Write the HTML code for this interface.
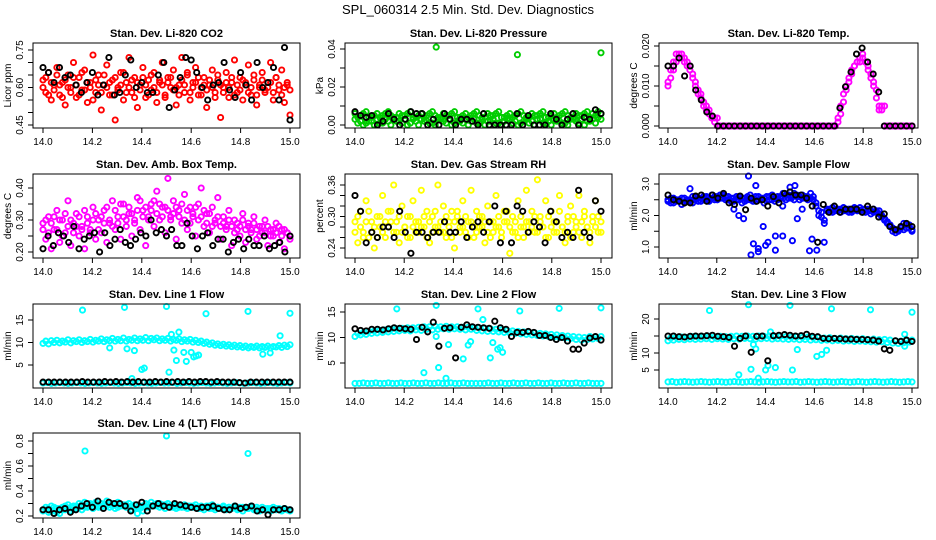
<!DOCTYPE html>
<html><head><meta charset="utf-8">
<style>
html,body{margin:0;padding:0;background:#fff;}
svg{display:block;font-family:"Liberation Sans",sans-serif;}
</style></head>
<body>
<svg id="chart" width="936" height="540" viewBox="0 0 936 540">
<text x="468" y="14" text-anchor="middle" font-size="13">SPL_060314  2.5 Min. Std. Dev. Diagnostics</text>
</svg>
<script>
// ---- data (x assumed evenly spaced over 14.0–15.0 for each series) ----
const xTickLabels = ["14.0","14.2","14.4","14.6","14.8","15.0"];
const xTicks = [14.0,14.2,14.4,14.6,14.8,15.0];

const co2Red = [0.63,0.58,0.66,0.55,0.61,0.68,0.57,0.62,0.53,0.65,0.60,0.70,0.56,0.64,0.59,0.67,0.54,0.62,0.73,0.58,0.65,0.51,0.61,0.69,0.57,0.63,0.47,0.60,0.66,0.55,0.62,0.72,0.58,0.64,0.52,0.61,0.68,0.56,0.63,0.59,0.66,0.54,0.62,0.70,0.57,0.64,0.60,0.67,0.53,0.61,0.72,0.58,0.65,0.55,0.62,0.68,0.57,0.60,0.64,0.52,0.61,0.67,0.58,0.63,0.48,0.60,0.66,0.56,0.62,0.71,0.58,0.64,0.55,0.61,0.69,0.57,0.63,0.53,0.60,0.66,0.58,0.62,0.70,0.55,0.64,0.59,0.67,0.54,0.61,0.49];
const co2Red2 = [0.60,0.64,0.57,0.62,0.59,0.65,0.61,0.56,0.63,0.60,0.58,0.64,0.61,0.57,0.66,0.59,0.62,0.60,0.55,0.63,0.61,0.58,0.65,0.60,0.62,0.57,0.64,0.59,0.61,0.66,0.58,0.60,0.63,0.56,0.62,0.59,0.64,0.61,0.57,0.65,0.60,0.58,0.63,0.61,0.56,0.62,0.64,0.59,0.60,0.57,0.63,0.61,0.66,0.58,0.60,0.62,0.64,0.57,0.61,0.59,0.63,0.60,0.56,0.65,0.61,0.58,0.62,0.60,0.64,0.57,0.61,0.59,0.63,0.62,0.58,0.60,0.65,0.57,0.61,0.63,0.59,0.60,0.62,0.58,0.64,0.61,0.57,0.60,0.62,0.59];
const co2Black = [0.68,0.66,0.62,0.68,0.64,0.65,0.61,0.58,0.62,0.66,0.57,0.61,0.72,0.57,0.58,0.65,0.71,0.60,0.62,0.58,0.58,0.65,0.70,0.52,0.59,0.64,0.72,0.71,0.66,0.60,0.55,0.61,0.62,0.70,0.59,0.56,0.66,0.61,0.55,0.70,0.60,0.62,0.68,0.55,0.76,0.47];

const presGreen = [0.006,0.001,0.005,0.000,0.007,0.002,0.004,0.000,0.006,0.001,0.005,0.003,0.007,0.000,0.004,0.002,0.006,0.001,0.005,0.000,0.007,0.003,0.004,0.000,0.006,0.002,0.005,0.001,0.007,0.000,0.004,0.003,0.006,0.001,0.005,0.000,0.007,0.002,0.004,0.001,0.006,0.000,0.005,0.003,0.007,0.001,0.004,0.000,0.006,0.002,0.005,0.001,0.007,0.000,0.004,0.003,0.006,0.001,0.005,0.000,0.007,0.002,0.004,0.001,0.006,0.000,0.005,0.003,0.007,0.001,0.004,0.000,0.006,0.002,0.005,0.001,0.007,0.000,0.004,0.003,0.006,0.001,0.005,0.000,0.007,0.002,0.006,0.001,0.007,0.003];
const presGreen2 = [0.003,0.004,0.002,0.006,0.001,0.004,0.002,0.005,0.003,0.004,0.001,0.006,0.002,0.005,0.003,0.004,0.002,0.005,0.003,0.006,0.001,0.004,0.002,0.005,0.003,0.004,0.002,0.006,0.001,0.005,0.003,0.004,0.002,0.005,0.003,0.006,0.001,0.004,0.002,0.005,0.003,0.004,0.002,0.006,0.001,0.005,0.003,0.004,0.002,0.005,0.003,0.006,0.001,0.004,0.002,0.005,0.003,0.004,0.002,0.006,0.001,0.005,0.003,0.004,0.002,0.005,0.003,0.006,0.001,0.004,0.002,0.005,0.003,0.004,0.002,0.006,0.001,0.005,0.003,0.004,0.002,0.005,0.003,0.006,0.002,0.004,0.003,0.005,0.004,0.006];
const presOutX = [14.33,14.66,15.0];
const presOutY = [0.041,0.037,0.038];
const presBlack = [0.007,0.005,0.004,0.005,0.000,0.002,0.006,0.003,0.000,0.003,0.007,0.006,0.006,0.000,0.003,0.000,0.006,0.003,0.000,0.003,0.003,0.002,0.000,0.006,0.000,0.000,0.000,0.000,0.000,0.006,0.000,0.005,0.000,0.000,0.000,0.006,0.003,0.000,0.003,0.006,0.000,0.004,0.003,0.008,0.006];

const tempMag = [0.010,0.012,0.014,0.016,0.017,0.017,0.016,0.015,0.014,0.012,0.010,0.008,0.007,0.005,0.004,0.003,0.002,0.001,0,0,0,0,0,0,0,0,0,0,0,0,0,0,0,0,0,0,0,0,0,0,0,0,0,0,0,0,0,0,0,0,0,0,0,0,0,0,0,0,0,0,0,0,0.002,0.005,0.008,0.010,0.012,0.014,0.015,0.016,0.017,0.018,0.016,0.014,0.012,0.010,0.007,0.004,0.004,0,0,0,0,0,0,0,0,0,0,0];
const tempMag2 = [0.011,0.014,0.016,0.018,0.018,0.018,0.017,0.016,0.015,0.013,0.011,0.009,0.008,0.006,0.005,0.004,0.002,0.002,0.002,0,0,0,0,0,0,0,0,0,0,0,0,0,0,0,0,0,0,0,0,0,0,0,0,0,0,0,0,0,0,0,0,0,0,0,0,0,0,0,0,0,0,0,0.001,0.003,0.006,0.009,0.011,0.013,0.015,0.016,0.016,0.017,0.016,0.015,0.013,0.011,0.009,0.005,0.005,0.005,0,0,0,0,0,0,0,0,0,0];
const tempBlack = [0.015,0.015,0.017,0.0125,0.015,0.009,0.0065,0.0035,0.0025,0,0,0,0,0,0,0,0,0,0,0,0,0,0,0,0,0,0,0,0,0,0,0.0045,0.0098,0.0135,0.018,0.0195,0.016,0.013,0.0085,0,0,0,0,0,0];

const ambMag = [0.29,0.24,0.31,0.21,0.27,0.33,0.23,0.30,0.26,0.36,0.22,0.29,0.32,0.25,0.28,0.21,0.31,0.27,0.34,0.24,0.30,0.26,0.33,0.23,0.29,0.36,0.27,0.31,0.24,0.35,0.28,0.32,0.25,0.30,0.37,0.27,0.33,0.22,0.31,0.35,0.28,0.39,0.30,0.34,0.26,0.43,0.31,0.36,0.24,0.33,0.29,0.38,0.27,0.34,0.31,0.25,0.35,0.40,0.28,0.32,0.26,0.34,0.29,0.37,0.24,0.31,0.28,0.33,0.22,0.30,0.27,0.25,0.32,0.23,0.29,0.27,0.31,0.24,0.28,0.26,0.30,0.22,0.27,0.25,0.29,0.23,0.27,0.21,0.26,0.24];
const ambMag2 = [0.27,0.30,0.26,0.29,0.31,0.27,0.30,0.25,0.32,0.28,0.30,0.26,0.28,0.31,0.27,0.33,0.29,0.26,0.30,0.32,0.27,0.31,0.29,0.34,0.30,0.28,0.33,0.29,0.35,0.31,0.30,0.34,0.32,0.29,0.33,0.36,0.31,0.34,0.30,0.33,0.36,0.32,0.35,0.31,0.34,0.33,0.30,0.32,0.34,0.31,0.35,0.30,0.33,0.29,0.32,0.34,0.30,0.31,0.33,0.29,0.32,0.28,0.30,0.31,0.28,0.29,0.27,0.30,0.28,0.26,0.29,0.28,0.30,0.27,0.28,0.26,0.29,0.27,0.25,0.28,0.26,0.28,0.25,0.27,0.26,0.28,0.25,0.27,0.26,0.25];
const ambBlack = [0.21,0.25,0.22,0.26,0.25,0.23,0.28,0.21,0.24,0.25,0.26,0.20,0.26,0.22,0.24,0.27,0.23,0.22,0.24,0.26,0.25,0.30,0.26,0.27,0.25,0.27,0.22,0.22,0.29,0.25,0.21,0.25,0.26,0.22,0.24,0.24,0.20,0.23,0.24,0.21,0.24,0.22,0.22,0.25,0.21,0.22,0.23,0.20,0.25];

const rhYellow = [0.29,0.25,0.31,0.27,0.33,0.26,0.29,0.24,0.30,0.28,0.34,0.26,0.31,0.29,0.36,0.27,0.25,0.32,0.28,0.30,0.26,0.33,0.29,0.27,0.35,0.28,0.31,0.25,0.30,0.28,0.36,0.27,0.32,0.26,0.29,0.31,0.24,0.30,0.28,0.33,0.27,0.29,0.35,0.26,0.31,0.28,0.30,0.25,0.32,0.29,0.27,0.34,0.28,0.26,0.31,0.29,0.23,0.30,0.27,0.33,0.28,0.26,0.35,0.29,0.31,0.27,0.37,0.30,0.28,0.33,0.26,0.31,0.29,0.27,0.34,0.28,0.25,0.30,0.32,0.27,0.29,0.34,0.26,0.31,0.28,0.25,0.30,0.33,0.27,0.29];
const rhYellow2 = [0.27,0.30,0.28,0.26,0.29,0.31,0.27,0.28,0.26,0.30,0.27,0.29,0.28,0.31,0.27,0.29,0.30,0.27,0.28,0.26,0.30,0.28,0.27,0.29,0.28,0.30,0.26,0.29,0.27,0.31,0.28,0.29,0.27,0.30,0.28,0.26,0.29,0.31,0.27,0.28,0.30,0.26,0.29,0.28,0.27,0.30,0.28,0.29,0.27,0.26,0.29,0.28,0.30,0.27,0.29,0.31,0.28,0.27,0.29,0.26,0.30,0.28,0.29,0.27,0.28,0.30,0.27,0.29,0.28,0.26,0.30,0.28,0.27,0.29,0.31,0.28,0.27,0.29,0.26,0.30,0.28,0.27,0.29,0.30,0.28,0.27,0.29,0.28,0.30,0.27];
const rhBlack = [0.34,0.31,0.25,0.27,0.26,0.28,0.28,0.26,0.31,0.27,0.23,0.27,0.27,0.26,0.27,0.27,0.29,0.27,0.27,0.29,0.26,0.28,0.29,0.27,0.29,0.32,0.25,0.31,0.25,0.32,0.31,0.27,0.29,0.28,0.25,0.31,0.29,0.26,0.27,0.26,0.35,0.27,0.26,0.33,0.31];

const flowBlue = [2.5,2.4,2.55,2.45,2.5,2.35,2.55,2.45,2.5,2.4,2.6,2.45,2.55,2.5,2.6,2.45,2.65,2.5,2.6,2.55,2.65,2.5,2.6,2.45,2.55,2.5,2.6,2.4,2.55,2.5,2.65,2.45,2.6,2.5,2.55,2.4,2.6,2.5,2.65,2.45,2.6,2.55,2.7,2.5,2.65,2.55,2.7,2.6,2.5,2.65,2.55,2.6,2.7,2.5,2.3,2.15,1.95,1.75,2.2,2.1,2.25,2.15,2.2,2.1,2.25,2.15,2.2,2.1,2.2,2.15,2.25,2.1,2.2,2.15,2.05,2.2,2.1,2.15,2.0,1.9,1.8,1.7,1.6,1.55,1.5,1.6,1.75,1.6,1.7,1.55];
const flowBlue2 = [2.45,2.55,2.4,2.5,2.45,2.55,2.4,2.5,2.45,2.6,2.5,2.55,2.45,2.6,2.55,2.5,2.55,2.6,2.5,2.65,2.55,2.6,2.5,2.55,2.45,2.6,2.5,2.55,2.45,2.6,2.5,2.55,2.45,2.6,2.5,2.55,2.45,2.6,2.5,2.55,2.5,2.6,2.55,2.65,2.55,2.6,2.5,2.65,2.6,2.55,2.6,2.5,2.55,2.6,2.4,2.0,2.1,1.85,2.15,2.2,2.1,2.2,2.15,2.2,2.15,2.2,2.1,2.15,2.25,2.2,2.15,2.2,2.1,2.2,2.15,2.1,2.15,2.05,1.95,1.85,1.75,1.65,1.5,1.45,1.55,1.65,1.55,1.7,1.6,1.5];
const flowOutX = [14.34,14.35,14.37,14.37,14.39,14.4,14.41,14.44,14.44,14.47,14.51,14.53,14.58,14.59,14.61,14.64,14.29,14.31,14.27,14.33,14.09,14.52,14.55,14.36,14.47,14.5];
const flowOutY = [0.75,1.1,0.95,0.85,1.65,1.05,1.15,0.9,1.35,1.35,1.2,1.9,0.88,1.25,0.9,1.15,2.0,1.9,2.2,3.25,2.85,2.95,2.2,2.95,2.3,2.9];
const flowBlack = [2.65,2.5,2.45,2.4,2.4,2.62,2.65,2.45,2.65,2.55,2.7,2.4,2.35,2.62,2.18,2.55,2.45,2.5,2.3,2.6,2.4,2.7,2.75,2.65,2.65,2.55,2.3,1.15,2.35,2.1,2.3,2.1,2.2,2.2,2.2,2.1,2.3,2.2,1.95,2.05,1.65,1.55,1.65,1.75,1.65];

const l1Cyan = [9.8,10.3,9.7,10.4,10.0,10.5,9.9,10.3,10.1,10.6,9.9,10.4,10.2,10.6,10.0,10.4,10.2,10.7,10.1,10.5,10.3,10.8,10.2,10.6,10.4,10.9,10.3,10.7,10.4,11.0,10.3,10.7,10.5,11.0,10.4,10.8,10.5,11.1,10.4,10.9,10.6,11.0,10.4,10.8,10.5,10.9,10.3,10.7,10.5,10.8,10.2,10.6,10.3,10.7,10.1,10.5,10.0,10.3,9.8,10.1,9.6,9.9,9.4,9.7,9.3,9.6,9.2,9.5,9.1,9.4,9.0,9.3,8.9,9.2,8.8,9.1,8.9,9.2,8.8,9.1,8.9,9.2,8.8,9.1,9.0,9.3,8.9,9.4,9.1,9.5];
const l1Base = [1.0,1.1,0.9,1.0,1.1,1.0,0.9,1.0,1.1,1.0,0.9,1.0,1.1,1.0,0.9,1.0,1.1,1.0,0.9,1.0,1.1,1.0,0.9,1.0,1.1,1.0,0.9,1.0,1.1,1.0,1.0,1.1,0.9,1.0,1.1,1.0,0.9,1.0,1.1,1.0,0.9,1.0,1.1,1.0,0.9,1.0,1.1,1.0,0.9,1.0,1.1,1.0,0.9,1.0,1.1,1.0,0.9,1.0,1.1,1.0];
const l1OutX = [14.16,14.33,14.5,14.66,14.83,15.0,14.40,14.41,14.51,14.54,14.58,14.52,14.55,14.53,14.57,14.6,14.62,14.37,14.34,14.27,14.36,14.89,14.92,14.96,14.61,14.63];
const l1OutY = [17.2,17.8,18.0,16.4,16.9,16.5,4.0,4.3,3.4,6.0,5.8,11.8,12.3,8.3,7.8,7.8,7.0,8.2,8.6,8.8,2.0,7.4,7.7,11.5,6.8,7.2];
const l1Black = [1.2,1.2,1.2,1.2,1.2,1.2,1.2,1.3,1.2,1.2,1.2,1.3,1.2,1.3,1.2,1.3,1.2,1.3,1.2,1.2,1.3,1.2,1.3,1.2,1.3,1.2,1.3,1.2,1.3,1.3,1.2,1.3,1.2,1.2,1.2,1.1,1.0,1.2,1.2,1.2,1.2,1.2,1.2,1.2,1.2];

const l2Cyan = [10.2,10.8,10.5,11.0,10.6,11.2,10.8,11.3,10.9,11.4,11.0,11.5,11.1,11.6,11.2,11.7,11.3,11.8,11.4,11.9,11.3,11.9,11.5,12.0,11.4,12.1,11.6,12.1,11.5,12.2,11.6,12.1,11.7,12.2,11.6,12.1,11.7,12.1,11.6,12.0,11.5,12.0,11.6,11.9,11.4,11.9,11.3,11.8,11.2,11.7,11.2,11.6,11.1,11.5,11.0,11.4,10.9,11.3,10.8,11.2,10.7,11.1,10.6,11.0,10.5,10.9,10.4,10.8,10.3,10.7,10.2,10.6,10.1,10.5,10.0,10.4,9.9,10.3,9.8,10.2,9.6,10.1,9.5,10.0,9.6,10.2,9.7,10.1,9.8,10.2];
const l2Base = [1.0,1.0,1.1,1.0,1.0,1.1,1.0,1.0,1.1,1.0,1.0,1.1,1.0,1.0,1.1,1.0,1.0,1.1,1.0,1.0,1.1,1.0,1.0,1.1,1.0,1.0,1.1,1.0,1.0,1.0,1.0,1.0,1.1,1.0,1.0,1.1,1.0,1.0,1.1,1.0,1.0,1.1,1.0,1.0,1.1,1.0,1.0,1.1,1.0,1.0,1.1,1.0,1.0,1.1,1.0,1.0,1.1,1.0,1.0,1.0];
const l2OutX = [14.17,14.33,14.5,14.67,14.83,15.0,14.28,14.34,14.37,14.44,14.55,14.56,14.58,14.6,14.46,14.47,14.38,14.52,14.33,14.59];
const l2OutY = [15.6,16.3,15.6,15.2,15.7,15.8,3.1,4.1,2.0,5.8,6.0,9.0,7.7,7.1,8.5,9.2,8.6,13.5,10.2,8.0];
const l2Black = [11.7,11.4,11.3,11.6,11.6,11.5,11.7,11.9,11.8,11.7,11.6,9.6,12.0,11.1,13.0,8.3,11.8,11.9,6.0,12.0,12.5,12.1,12.0,11.9,11.8,13.2,11.9,11.6,10.2,11.0,11.0,11.2,11.0,10.4,10.4,10.0,9.6,10.0,9.3,7.7,7.7,8.9,9.9,10.2,9.5];

const l3Cyan = [13.6,14.4,13.8,14.6,14.0,14.7,13.9,14.6,14.1,14.8,14.0,14.7,14.1,14.8,14.2,14.9,14.0,14.7,14.2,14.9,14.1,14.8,14.0,14.9,14.2,15.0,14.1,14.9,14.3,15.0,14.2,14.9,14.1,15.0,14.2,14.9,14.3,15.0,14.1,14.8,14.2,14.9,14.1,14.8,14.0,14.7,14.1,14.8,13.9,14.6,14.0,14.7,13.8,14.5,13.9,14.6,13.7,14.4,13.8,14.5,13.6,14.3,13.7,14.4,13.5,14.2,13.6,14.3,13.4,14.1,13.5,14.2,13.4,14.0,13.3,14.1,13.2,13.9,13.3,14.0,13.1,13.8,12.9,13.6,12.8,13.5,13.0,13.7,13.2,13.8];
const l3Base = [1.5,1.6,1.4,1.5,1.6,1.5,1.4,1.5,1.6,1.5,1.4,1.5,1.6,1.5,1.4,1.5,1.6,1.5,1.4,1.5,1.6,1.5,1.4,1.5,1.6,1.5,1.4,1.5,1.6,1.5,1.5,1.6,1.4,1.5,1.6,1.5,1.4,1.5,1.6,1.5,1.4,1.5,1.6,1.5,1.4,1.5,1.6,1.5,1.4,1.5,1.6,1.5,1.4,1.5,1.6,1.5,1.4,1.5,1.6,1.5];
const l3OutX = [14.17,14.33,14.5,14.67,14.83,15.0,14.29,14.34,14.37,14.40,14.41,14.44,14.51,14.42,14.53,14.61,14.63,14.65,14.36,14.35,14.97,14.97];
const l3OutY = [22.5,24.2,24.0,23.0,22.7,22.0,3.6,5.2,2.6,5.0,6.3,5.7,5.0,16.2,11.0,9.0,9.6,10.8,11.2,12.5,15.5,12.0];
const l3Black = [15.0,15.0,14.8,14.7,14.9,15.0,15.0,15.1,15.2,14.9,14.8,14.6,12.0,14.3,15.0,10.2,14.9,15.0,7.7,15.1,15.2,15.4,15.2,15.0,15.1,15.5,14.9,14.8,14.3,14.2,14.3,14.2,14.1,14.1,14.0,14.0,13.9,13.8,13.5,11.2,10.8,13.6,13.4,13.8,13.4];

const ltCyan = [0.25,0.27,0.23,0.28,0.24,0.26,0.22,0.27,0.25,0.29,0.24,0.28,0.26,0.30,0.25,0.31,0.27,0.29,0.26,0.31,0.27,0.30,0.28,0.32,0.27,0.30,0.26,0.31,0.28,0.29,0.27,0.30,0.25,0.29,0.22,0.28,0.24,0.30,0.27,0.31,0.28,0.30,0.27,0.29,0.26,0.30,0.27,0.29,0.26,0.28,0.27,0.29,0.26,0.28,0.27,0.29,0.26,0.28,0.25,0.28,0.26,0.29,0.25,0.27,0.26,0.28,0.25,0.27,0.26,0.28,0.25,0.27,0.24,0.27,0.26,0.28,0.25,0.27,0.24,0.27,0.25,0.26,0.24,0.27,0.25,0.26,0.24,0.26,0.25,0.24];
const ltCyan2 = [0.24,0.25,0.26,0.24,0.27,0.23,0.26,0.25,0.28,0.26,0.27,0.25,0.28,0.27,0.29,0.27,0.28,0.30,0.28,0.29,0.28,0.27,0.29,0.28,0.30,0.28,0.29,0.27,0.29,0.28,0.29,0.27,0.28,0.26,0.27,0.26,0.28,0.27,0.29,0.28,0.29,0.28,0.30,0.28,0.29,0.28,0.28,0.27,0.28,0.27,0.28,0.27,0.28,0.27,0.28,0.27,0.27,0.26,0.27,0.27,0.28,0.26,0.27,0.27,0.26,0.27,0.26,0.27,0.26,0.27,0.26,0.26,0.27,0.26,0.26,0.27,0.26,0.25,0.26,0.25,0.26,0.25,0.26,0.25,0.26,0.25,0.25,0.26,0.25,0.25];
const ltOutX = [14.17,14.5,14.83];
const ltOutY = [0.72,0.84,0.70];
const ltBlack = [0.25,0.25,0.22,0.25,0.26,0.23,0.25,0.28,0.30,0.27,0.32,0.26,0.31,0.30,0.30,0.28,0.24,0.29,0.31,0.24,0.28,0.30,0.28,0.27,0.30,0.29,0.28,0.27,0.26,0.27,0.27,0.28,0.26,0.25,0.25,0.28,0.26,0.27,0.28,0.24,0.25,0.21,0.25,0.25,0.26,0.25];

// ---- panel layout ----
const svg = document.getElementById('chart');
const NS = 'http://www.w3.org/2000/svg';
function mk(tag, attrs, parent){
  const e = document.createElementNS(NS, tag);
  for (const k in attrs) e.setAttribute(k, attrs[k]);
  (parent||svg).appendChild(e);
  return e;
}
const cols = [
  {l:33, r:300, x0:43, x1:290},
  {l:345, r:612, x0:355, x1:601},
  {l:659, r:918, x0:668, x1:912}
];
const rows = [{t:43,b:128},{t:174,b:258},{t:304,b:388},{t:433,b:518}];

function evenX(n){ const a=[]; for(let i=0;i<n;i++) a.push(14 + i/(n-1)); return a; }

const panels = [
  {slug:'co2', title:'Stan. Dev. Li-820 CO2', ylab:'Licor ppm', c:0, r:0, ya:[0.75,50,0.45,125], ticks:[0.45,0.5,0.55,0.6,0.65,0.7,0.75], lbls:[[0.45,'0.45'],[0.6,'0.60'],[0.75,'0.75']],
   series:[[co2Red,null,'#ff0000'],[co2Red2,null,'#ff0000'],[co2Black,null,'#000']]},
  {slug:'pressure', title:'Stan. Dev. Li-820 Pressure', ylab:'kPa', c:1, r:0, ya:[0.04,49,0,125], ticks:[0,0.01,0.02,0.03,0.04], lbls:[[0,'0.00'],[0.02,'0.02'],[0.04,'0.04']],
   series:[[presGreen,null,'#00cc00'],[presGreen2,null,'#00cc00'],[presOutY,presOutX,'#00cc00'],[presBlack,null,'#000']]},
  {slug:'temp', title:'Stan. Dev. Li-820 Temp.', ylab:'degrees C', c:2, r:0, ya:[0.02,46,0,126], ticks:[0,0.005,0.01,0.015,0.02], lbls:[[0,'0.000'],[0.01,'0.010'],[0.02,'0.020']],
   series:[[tempMag,null,'#ff00ff'],[tempMag2,null,'#ff00ff'],[tempBlack,null,'#000']]},
  {slug:'amb-box', title:'Stan. Dev. Amb. Box Temp.', ylab:'degrees C', c:0, r:1, ya:[0.4,188,0.2,252], ticks:[0.2,0.25,0.3,0.35,0.4], lbls:[[0.2,'0.20'],[0.3,'0.30'],[0.4,'0.40']],
   series:[[ambMag,null,'#ff00ff'],[ambMag2,null,'#ff00ff'],[ambBlack,null,'#000']]},
  {slug:'gas-rh', title:'Stan. Dev. Gas Stream RH', ylab:'percent', c:1, r:1, ya:[0.36,185,0.24,248], ticks:[0.24,0.26,0.28,0.30,0.32,0.34,0.36], lbls:[[0.24,'0.24'],[0.30,'0.30'],[0.36,'0.36']],
   series:[[rhYellow,null,'#ffff00'],[rhYellow2,null,'#ffff00'],[rhBlack,null,'#000']]},
  {slug:'sample-flow', title:'Stan. Dev. Sample Flow', ylab:'ml/min', c:2, r:1, ya:[3.0,184,1.0,247], ticks:[1,1.5,2,2.5,3], lbls:[[1,'1.0'],[2,'2.0'],[3,'3.0']],
   series:[[flowBlue,null,'#0000ff'],[flowBlue2,null,'#0000ff'],[flowOutY,flowOutX,'#0000ff'],[flowBlack,null,'#000']]},
  {slug:'line1', title:'Stan. Dev. Line 1 Flow', ylab:'ml/min', c:0, r:2, ya:[15,320,5,365], ticks:[5,10,15], lbls:[[5,'5'],[10,'10'],[15,'15']],
   series:[[l1Cyan,null,'#00ffff'],[l1Base,null,'#00ffff'],[l1OutY,l1OutX,'#00ffff'],[l1Black,null,'#000']]},
  {slug:'line2', title:'Stan. Dev. Line 2 Flow', ylab:'ml/min', c:1, r:2, ya:[15,312,5,363], ticks:[5,10,15], lbls:[[5,'5'],[10,'10'],[15,'15']],
   series:[[l2Cyan,null,'#00ffff'],[l2Base,null,'#00ffff'],[l2OutY,l2OutX,'#00ffff'],[l2Black,null,'#000']]},
  {slug:'line3', title:'Stan. Dev. Line 3 Flow', ylab:'ml/min', c:2, r:2, ya:[20,319,5,370], ticks:[5,10,15,20], lbls:[[5,'5'],[10,'10'],[20,'20']],
   series:[[l3Cyan,null,'#00ffff'],[l3Base,null,'#00ffff'],[l3OutY,l3OutX,'#00ffff'],[l3Black,null,'#000']]},
  {slug:'line4', title:'Stan. Dev. Line 4 (LT) Flow', ylab:'ml/min', c:0, r:3, ya:[0.8,441,0.2,516], ticks:[0.2,0.3,0.4,0.5,0.6,0.7,0.8], lbls:[[0.2,'0.2'],[0.4,'0.4'],[0.6,'0.6'],[0.8,'0.8']],
   series:[[ltCyan,null,'#00ffff'],[ltCyan2,null,'#00ffff'],[ltOutY,ltOutX,'#00ffff'],[ltBlack,null,'#000']]}
];

panels.forEach(p => {
  const C = cols[p.c], R = rows[p.r];
  const g = mk('g', {});
  
  
  const xs = v => C.x0 + (v - 14) * (C.x1 - C.x0);
  const ys = v => p.ya[1] + (v - p.ya[0]) * (p.ya[3] - p.ya[1]) / (p.ya[2] - p.ya[0]);
  const t = mk('text', {x:(C.l+C.r)/2, y:R.t-6, 'text-anchor':'middle', 'font-size':11, 'font-weight':'bold'}, g);
  t.textContent = p.title;
  
  
  const pg = mk('g', {fill:'none', 'stroke-width':1.9}, g);
  
  
  p.series.forEach(s => {
    const vals = s[0], xv = s[1] || evenX(vals.length);
    vals.forEach((v, i) => {
      const c = mk('circle', {cx:xs(xv[i]).toFixed(1), cy:ys(v).toFixed(1), r:2.6, stroke:s[2]}, pg);
      
      
    });
  });
  const b = mk('rect', {x:C.l, y:R.t, width:C.r-C.l, height:R.b-R.t, fill:'none', stroke:'#000', 'stroke-width':1}, g);
  
  
  xTicks.forEach((v, i) => {
    const x = xs(v);
    mk('line', {x1:x, x2:x, y1:R.b, y2:R.b+5, stroke:'#000'}, g);
    const tl = mk('text', {x:x, y:R.b+17, 'text-anchor':'middle', 'font-size':10}, g);
    tl.textContent = xTickLabels[i];
    
    
  });
  p.ticks.forEach(v => { const y = ys(v); mk('line', {x1:C.l-5, x2:C.l, y1:y, y2:y, stroke:'#000'}, g); });
  p.lbls.forEach(L => {
    const y = ys(L[0]), x = C.l - 10;
    const tl = mk('text', {x:x, y:y, 'text-anchor':'middle', 'font-size':10, transform:`rotate(-90 ${x} ${y})`}, g);
    tl.textContent = L[1];
    
    
  });
  const yl = C.l - 22, ym = (R.t+R.b)/2;
  const yt = mk('text', {x:yl, y:ym, 'text-anchor':'middle', 'font-size':10, transform:`rotate(-90 ${yl} ${ym})`}, g);
  yt.textContent = p.ylab;
  
  
});
</script>
</body></html>
